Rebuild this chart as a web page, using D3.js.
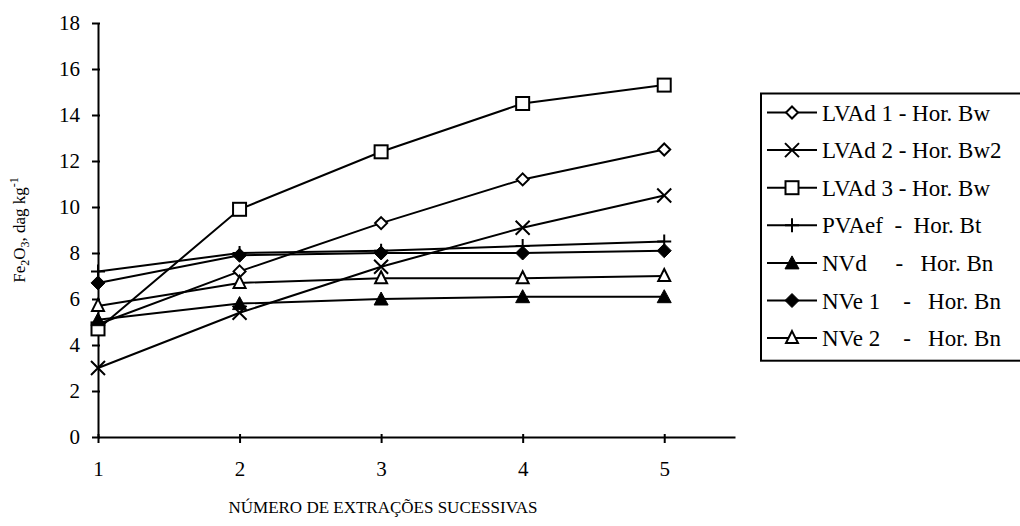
<!DOCTYPE html>
<html><head><meta charset="utf-8">
<script src="https://cdn.jsdelivr.net/npm/d3@7"></script>
<style>
body{margin:0;background:#fff;}
svg{display:block;}
text{font-family:"Liberation Serif","Times New Roman",serif;}
</style></head>
<body><svg id="c" width="1020" height="526"></svg>
<script>
const xValues = [1, 2, 3, 4, 5];
const yTicks = [0, 2, 4, 6, 8, 10, 12, 14, 16, 18];
const seriesNames = ["LVAd 1 - Hor. Bw", "LVAd 2 - Hor. Bw2", "LVAd 3 - Hor. Bw", "PVAef  -  Hor. Bt", "NVd     -   Hor. Bn", "NVe 1    -   Hor. Bn", "NVe 2    -   Hor. Bn"];
const seriesMarkers = ["diamondOpen", "cross", "squareOpen", "plus", "triangleFilled", "diamondFilled", "triangleOpen"];
const lvad1 = [4.9, 7.2, 9.3, 11.2, 12.5];
const lvad2 = [3.0, 5.4, 7.4, 9.1, 10.5];
const lvad3 = [4.7, 9.9, 12.4, 14.5, 15.3];
const pvaef = [7.2, 8.0, 8.1, 8.3, 8.5];
const nvd = [5.1, 5.8, 6.0, 6.1, 6.1];
const nve1 = [6.7, 7.9, 8.0, 8.0, 8.1];
const nve2 = [5.7, 6.7, 6.9, 6.9, 7.0];
const seriesValues = [lvad1, lvad2, lvad3, pvaef, nvd, nve1, nve2];

const svg = d3.select("#c");
const x = d3.scaleLinear().domain([1, 5.5]).range([98, 735]);
const y = d3.scaleLinear().domain([0, 18]).range([437, 23]);
const serif = "'Liberation Serif', 'Times New Roman', serif";

// axes
const yAxis = svg.append("g").attr("transform", "translate(98,0)")
  .call(d3.axisLeft(y).tickValues(yTicks).tickFormat(d3.format("d")).tickSize(6).tickSizeOuter(0).tickPadding(12));
const xAxis = svg.append("g").attr("transform", "translate(0,437)")
  .call(d3.axisBottom(x).tickValues(xValues).tickFormat(d3.format("d")).tickSize(6).tickSizeOuter(0).tickPadding(18));
[yAxis, xAxis].forEach(g => {
  g.attr("font-family", serif).attr("font-size", 21);
  g.select(".domain").attr("stroke", "#000").attr("stroke-width", 2);
  g.selectAll(".tick line").attr("stroke", "#000").attr("stroke-width", 2);
  g.selectAll(".tick text").attr("fill", "#000");
});
yAxis.selectAll(".tick line").attr("x1", 2);
xAxis.selectAll(".tick line").attr("y1", -3).attr("y2", 6);

// axis titles
const yt = svg.append("text").attr("transform", "translate(25,230) rotate(-90)")
  .attr("text-anchor", "middle").attr("font-size", 17).attr("fill", "#000");
yt.append("tspan").text("Fe");
yt.append("tspan").text("2").attr("dy", 4).attr("font-size", 12);
yt.append("tspan").text("O").attr("dy", -4);
yt.append("tspan").text("3").attr("dy", 4).attr("font-size", 12);
yt.append("tspan").text(", dag kg").attr("dy", -4);
yt.append("tspan").text("-1").attr("dy", -7).attr("font-size", 12);

svg.append("text").attr("x", 383).attr("y", 513).attr("text-anchor", "middle")
  .attr("font-size", 17).attr("fill", "#000").text("NÚMERO DE EXTRAÇÕES SUCESSIVAS");

function drawMarker(g, type, cx, cy) {
  const s = 2;
  switch (type) {
    case "diamondOpen":
      g.append("path").attr("d", `M${cx},${cy-6}L${cx+6},${cy}L${cx},${cy+6}L${cx-6},${cy}Z`)
        .attr("fill", "#fff").attr("stroke", "#000").attr("stroke-width", s); break;
    case "diamondFilled":
      g.append("path").attr("d", `M${cx},${cy-7}L${cx+7},${cy}L${cx},${cy+7}L${cx-7},${cy}Z`)
        .attr("fill", "#000").attr("stroke", "#000").attr("stroke-width", 1); break;
    case "squareOpen":
      g.append("rect").attr("x", cx-6.5).attr("y", cy-6.5).attr("width", 13).attr("height", 13)
        .attr("fill", "#fff").attr("stroke", "#000").attr("stroke-width", s); break;
    case "cross":
      g.append("path").attr("d", `M${cx-7},${cy-7}L${cx+7},${cy+7}M${cx-7},${cy+7}L${cx+7},${cy-7}`)
        .attr("stroke", "#000").attr("stroke-width", s).attr("fill", "none"); break;
    case "plus":
      g.append("path").attr("d", `M${cx-7},${cy}L${cx+7},${cy}M${cx},${cy-7}L${cx},${cy+7}`)
        .attr("stroke", "#000").attr("stroke-width", s).attr("fill", "none"); break;
    case "triangleFilled":
      g.append("path").attr("d", `M${cx},${cy-7}L${cx+7},${cy+6}L${cx-7},${cy+6}Z`)
        .attr("fill", "#000").attr("stroke", "#000").attr("stroke-width", 1); break;
    case "triangleOpen":
      g.append("path").attr("d", `M${cx},${cy-7}L${cx+6},${cy+5}L${cx-6},${cy+5}Z`)
        .attr("fill", "#fff").attr("stroke", "#000").attr("stroke-width", s); break;
  }
}

const line = d3.line().x((d, i) => x(xValues[i])).y(d => y(d));
seriesValues.forEach((vals, si) => {
  const g = svg.append("g");
  g.append("path").attr("d", line(vals)).attr("fill", "none").attr("stroke", "#000").attr("stroke-width", 2);
  vals.forEach((v, i) => drawMarker(g, seriesMarkers[si], x(xValues[i]), y(v)));
});

// legend
const lg = svg.append("g");
const rowH = 37.6, row0 = 112.5;
lg.append("rect").attr("x", 761).attr("y", row0 - 19).attr("width", 262).attr("height", rowH * 7 + 4)
  .attr("fill", "#fff").attr("stroke", "#000").attr("stroke-width", 2);
seriesNames.forEach((name, i) => {
  const cy = row0 + i * rowH;
  lg.append("line").attr("x1", 767).attr("x2", 817).attr("y1", cy).attr("y2", cy)
    .attr("stroke", "#000").attr("stroke-width", 2);
  drawMarker(lg, seriesMarkers[i], 792, cy);
  lg.append("text").attr("x", 822).attr("y", cy).attr("dy", "0.35em")
    .attr("font-size", 23).style("white-space", "pre").attr("fill", "#000").text(name);
});
</script></body></html>
